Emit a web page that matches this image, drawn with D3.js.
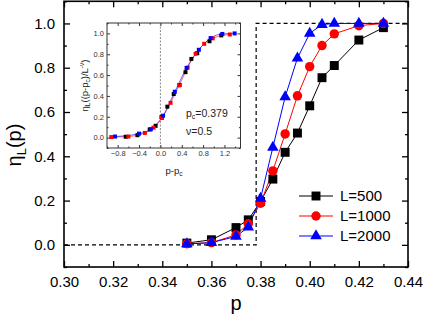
<!DOCTYPE html>
<html>
<head>
<meta charset="utf-8">
<script src="https://cdn.jsdelivr.net/npm/d3@7"></script>
<style>
  body { margin: 0; background: #fff; }
  svg { display: block; font-family: Arial, "Liberation Sans", sans-serif; }
  .axis path { display: none; }
  .axis line { stroke: #000; }
</style>
</head>
<body>
<svg id="chart" width="424" height="318"></svg>
<script>
// main panel data
var pVals = [0.35, 0.36, 0.37, 0.375, 0.38, 0.385, 0.39, 0.395, 0.40, 0.405, 0.41, 0.42, 0.43];
var eta500  = [0.008, 0.023, 0.078, 0.113, 0.196, 0.297, 0.418, 0.505, 0.628, 0.755, 0.81, 0.925, 0.981];
var eta1000 = [0.005, 0.010, 0.045, 0.095, 0.188, 0.334, 0.501, 0.673, 0.805, 0.90, 0.953, 0.99, 1.0];
var eta2000 = [0.004, 0.010, 0.038, 0.080, 0.210, 0.440, 0.668, 0.843, 0.955, 0.995, 1.0, 1.0, 1.0];
var seriesNames = ["L=500", "L=1000", "L=2000"];
var pc = 0.3782;

// inset (collapsed) data
var ins500x  = [-0.65, -0.43, -0.20, -0.09, 0.02, 0.13, 0.25, 0.36, 0.47, 0.58, 0.69, 0.92, 1.14];
var ins500y  = eta500;
var ins1000x = [-0.92, -0.60, -0.29, -0.13, 0.03, 0.19, 0.35, 0.51, 0.66, 0.82, 0.98, 1.30];
var ins1000y = [0.005, 0.010, 0.045, 0.095, 0.188, 0.334, 0.501, 0.673, 0.805, 0.90, 0.953, 0.99];
var ins2000x = [-0.85, -0.40, -0.18, 0.05, 0.27, 0.49, 0.72, 0.94, 1.16, 1.39];
var ins2000y = [0.010, 0.038, 0.080, 0.210, 0.440, 0.668, 0.843, 0.955, 0.995, 1.0];

var xMajor = [0.30, 0.32, 0.34, 0.36, 0.38, 0.40, 0.42, 0.44];
var xMinor = [0.31, 0.33, 0.35, 0.37, 0.39, 0.41, 0.43];
var yMajor = [0.0, 0.2, 0.4, 0.6, 0.8, 1.0];
var yMinor = [-0.1, 0.1, 0.3, 0.5, 0.7, 0.9, 1.1];
var insXMajor = [-0.8, -0.4, 0.0, 0.4, 0.8, 1.2];
var insXMinor = [-1.0, -0.6, -0.2, 0.2, 0.6, 1.0, 1.4];

var colors = ["#000000", "#ff0000", "#0000ff"];

var svg = d3.select("#chart");

var x = d3.scaleLinear().domain([0.30, 0.44]).range([64, 408]);
var y = d3.scaleLinear().domain([-0.1, 1.1]).range([267, 1.3]);

// four-sided inward ticks, labels only on bottom/left
function drawAxes(g, xs, ys, o) {
  var x0 = xs.range()[0], x1 = xs.range()[1], y0 = ys.range()[0], y1 = ys.range()[1];
  var sides = [
    [d3.axisBottom, xs, "translate(0," + y0 + ")", o.xMaj, o.xMin, o.xFmt],
    [d3.axisTop, xs, "translate(0," + y1 + ")", o.xMaj, o.xMin, null],
    [d3.axisLeft, ys, "translate(" + x0 + ",0)", o.yMaj, o.yMin, o.yFmt],
    [d3.axisRight, ys, "translate(" + x1 + ",0)", o.yMaj, o.yMin, null]
  ];
  sides.forEach(function(s) {
    var ga = g.append("g").attr("class", "axis").attr("transform", s[2])
      .call(s[0](s[1]).tickValues(s[3]).tickSize(-o.big).tickPadding(o.pad).tickFormat(s[5] || ""));
    ga.selectAll("text").attr("font-size", o.fontSize).attr("fill", o.textColor);
    g.append("g").attr("class", "axis").attr("transform", s[2])
      .call(s[0](s[1]).tickValues(s[4]).tickSize(-o.small).tickFormat(""));
  });
  g.selectAll(".axis line").attr("stroke-width", o.tickWidth);
}

// ---- main panel ----
var main = svg.append("g");
drawAxes(main, x, y, {
  xMaj: xMajor, xMin: xMinor, yMaj: yMajor, yMin: yMinor,
  xFmt: d3.format(".2f"), yFmt: d3.format(".1f"),
  big: 6, small: 3, pad: 9, fontSize: 15, textColor: "#000", tickWidth: 1.3
});

main.append("rect")
  .attr("x", 64).attr("y", 1.3).attr("width", 344).attr("height", 265.7)
  .attr("fill", "none").attr("stroke", "#000").attr("stroke-width", 1.6);

// dashed step
var step = [[0.30, 0], [pc, 0], [pc, 1], [0.44, 1]];
main.append("path")
  .attr("d", d3.line().x(function(d) { return x(d[0]); }).y(function(d) { return y(d[1]); })(step))
  .attr("fill", "none").attr("stroke", "#000").attr("stroke-width", 1.2)
  .attr("stroke-dasharray", "4,3");

var series = [eta500, eta1000, eta2000];
var line = d3.line().x(function(d) { return x(d[0]); }).y(function(d) { return y(d[1]); });

series.forEach(function(s, i) {
  var pts = pVals.map(function(p, k) { return [p, s[k]]; });
  main.append("path").attr("d", line(pts)).attr("fill", "none")
    .attr("stroke", colors[i]).attr("stroke-width", 1);
});

var symbols = [d3.symbolSquare, d3.symbolCircle, d3.symbolTriangle];
var symSizes = [80, 70, 58];

series.forEach(function(s, i) {
  main.selectAll(".m" + i)
    .data(pVals.map(function(p, k) { return [p, s[k]]; }))
    .enter().append("path")
    .attr("transform", function(d) { return "translate(" + x(d[0]) + "," + y(d[1]) + ")"; })
    .attr("d", d3.symbol().type(symbols[i]).size(symSizes[i]))
    .attr("fill", colors[i]);
});

// legend
var legY = [196, 216, 236];
seriesNames.forEach(function(n, i) {
  var g = main.append("g").attr("transform", "translate(0," + legY[i] + ")");
  g.append("line").attr("x1", 299).attr("x2", 333).attr("y1", 0).attr("y2", 0)
    .attr("stroke", colors[i]).attr("stroke-width", 1);
  g.append("path").attr("transform", "translate(316,0)")
    .attr("d", d3.symbol().type(symbols[i]).size(symSizes[i])).attr("fill", colors[i]);
  g.append("text").attr("x", 340).attr("y", 0).attr("dy", "0.36em")
    .attr("font-size", 15).text(n);
});

// axis titles
main.append("text").attr("x", 236).attr("y", 310).attr("text-anchor", "middle")
  .attr("font-size", 20).text("p");
var yt = main.append("text").attr("transform", "translate(21,145) rotate(-90)")
  .attr("text-anchor", "middle").attr("font-size", 20);
yt.append("tspan").text("η");
yt.append("tspan").attr("font-size", 13).attr("dy", 5).text("L");
yt.append("tspan").attr("dy", -5).text("(p)");

// ---- inset ----
var ix = d3.scaleLinear().domain([-1.0, 1.5]).range([107, 240.5]);
var iy = d3.scaleLinear().domain([-0.1, 1.1]).range([148, 23]);
var inset = svg.append("g");
inset.append("rect").attr("x", 107).attr("y", 23).attr("width", 133.5).attr("height", 125).attr("fill", "#fff");
drawAxes(inset, ix, iy, {
  xMaj: insXMajor, xMin: insXMinor, yMaj: yMajor, yMin: yMinor,
  xFmt: d3.format(".1f"), yFmt: d3.format(".1f"),
  big: 3, small: 1.5, pad: 3, fontSize: 7.5, textColor: "#333", tickWidth: 0.8
});
inset.append("rect").attr("x", 107).attr("y", 23).attr("width", 133.5).attr("height", 125)
  .attr("fill", "none").attr("stroke", "#333").attr("stroke-width", 1);

inset.append("line").attr("x1", ix(0)).attr("x2", ix(0)).attr("y1", 23).attr("y2", 148)
  .attr("stroke", "#555").attr("stroke-width", 0.7).attr("stroke-dasharray", "2,1.5");

var iline = d3.line().x(function(d) { return ix(d[0]); }).y(function(d) { return iy(d[1]); })
  .curve(d3.curveMonotoneX);
var insSets = [[ins500x, ins500y], [ins1000x, ins1000y], [ins2000x, ins2000y]];
[1, 2].forEach(function(i) {
  var pts = insSets[i][0].map(function(v, k) { return [v, insSets[i][1][k]]; });
  inset.append("path").attr("d", iline(pts)).attr("fill", "none")
    .attr("stroke", colors[i]).attr("stroke-width", 1).attr("stroke-opacity", 0.6);
});
insSets.forEach(function(s, i) {
  inset.selectAll(".i" + i)
    .data(s[0].map(function(v, k) { return [v, s[1][k]]; }))
    .enter().append("rect")
    .attr("x", function(d) { return ix(d[0]) - 2; })
    .attr("y", function(d) { return iy(d[1]) - 2; })
    .attr("width", 4).attr("height", 4)
    .attr("fill", colors[i]);
});

var ixt = inset.append("text").attr("x", 174).attr("y", 174).attr("text-anchor", "middle")
  .attr("font-size", 9.5).attr("fill", "#222");
ixt.append("tspan").text("p-p");
ixt.append("tspan").attr("font-size", 6.5).attr("dy", 2).text("c");

var iyt = inset.append("text").attr("transform", "translate(88,85.5) rotate(-90)")
  .attr("text-anchor", "middle").attr("font-size", 9.5).attr("fill", "#222");
iyt.append("tspan").text("η");
iyt.append("tspan").attr("font-size", 6.5).attr("dy", 2).text("L");
iyt.append("tspan").attr("dy", -2).text("((p-p");
iyt.append("tspan").attr("font-size", 6.5).attr("dy", 2).text("c");
iyt.append("tspan").attr("dy", -2).text(")/L");
iyt.append("tspan").attr("font-size", 6.5).attr("dy", -4).text("-ν");
iyt.append("tspan").attr("dy", 4).text(")");

var ann = inset.append("text").attr("x", 186).attr("y", 117).attr("font-size", 10.5).attr("fill", "#222");
ann.append("tspan").text("p");
ann.append("tspan").attr("font-size", 7).attr("dy", 2).text("c");
ann.append("tspan").attr("dy", -2).text("=0.379");
inset.append("text").attr("x", 186).attr("y", 135).attr("font-size", 10.5).attr("fill", "#222")
  .text("ν=0.5");
</script>
</body>
</html>
